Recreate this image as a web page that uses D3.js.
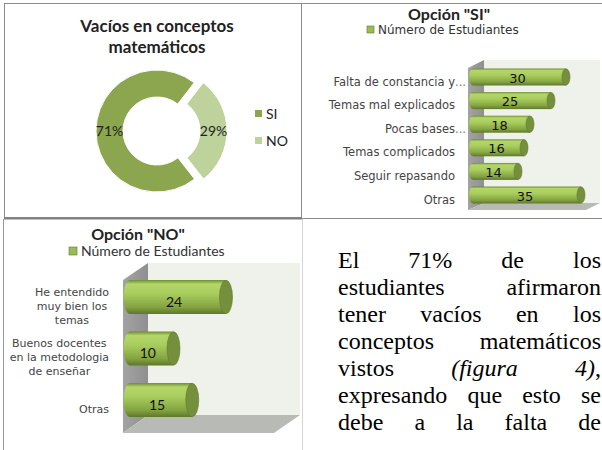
<!DOCTYPE html>
<html lang="es">
<head>
<meta charset="UTF-8">
<title>Vacíos en conceptos matemáticos</title>
<style>
  body { margin: 0; background: #fff; }
  svg { display: block; }
</style>
<script src="https://cdn.jsdelivr.net/npm/d3@7"></script>
</head>
<body>
<svg id="fig" width="602" height="450"></svg>
<script>
// datos de la figura
const pieLabels = ["SI", "NO"];
const pieValues = [71, 29];

const siCategories = ["Falta de constancia y...", "Temas mal explicados", "Pocas bases...",
                      "Temas complicados", "Seguir repasando", "Otras"];
const siValues = [30, 25, 18, 16, 14, 35];

const noCategories = [["He entendido", "muy bien los", "temas"],
                      ["Buenos docentes", "en la metodologia", "de enseñar"],
                      ["Otras"]];
const noValues = [24, 10, 15];

const seriesName = "Número de Estudiantes";

const paragraphLines = ["El 71% de los", "estudiantes afirmaron", "tener vacíos en los",
                        "conceptos matemáticos", "vistos (figura 4),",
                        "expresando que esto se", "debe a la falta de"];
const italicWords = ["(figura", "4)"];

const svg = d3.select("#fig");
svg.append("rect").attr("width", 602).attr("height", 450).attr("fill", "#fff");

const defs = svg.append("defs");
const barGrad = defs.append("linearGradient").attr("id", "barGrad")
  .attr("x1", 0).attr("y1", 0).attr("x2", 0).attr("y2", 1);
[[0, "#6f8c33"], [0.12, "#b4d66a"], [0.4, "#a9cd5d"], [0.8, "#84a342"], [1, "#5e7829"]]
  .forEach(s => barGrad.append("stop").attr("offset", s[0]).attr("stop-color", s[1]));
const sideGrad = defs.append("linearGradient").attr("id", "sideGrad")
  .attr("x1", 0).attr("y1", 0).attr("x2", 1).attr("y2", 0);
[[0, "#a3a3a3"], [1, "#8f8f8f"]]
  .forEach(s => sideGrad.append("stop").attr("offset", s[0]).attr("stop-color", s[1]));

// marcos de los paneles
svg.append("rect").attr("x", 4.5).attr("y", 3.5).attr("width", 297).attr("height", 214)
  .attr("fill", "none").attr("stroke", "#8c8c8c");
svg.append("line").attr("x1", 4).attr("x2", 302).attr("y1", 218.5).attr("y2", 218.5)
  .attr("stroke", "#7f7f7f").attr("stroke-width", 2);
svg.append("line").attr("x1", 302).attr("x2", 602).attr("y1", 3.5).attr("y2", 3.5).attr("stroke", "#8c8c8c");
svg.append("line").attr("x1", 302).attr("x2", 602).attr("y1", 218.5).attr("y2", 218.5).attr("stroke", "#8c8c8c");
svg.append("line").attr("x1", 3.5).attr("x2", 3.5).attr("y1", 219).attr("y2", 450).attr("stroke", "#9a9a9a");
svg.append("line").attr("x1", 302.5).attr("x2", 302.5).attr("y1", 219).attr("y2", 450).attr("stroke", "#d4d4d4");

// ---- dona ----
const gTitle = svg.append("text").attr("text-anchor", "middle")
  .attr("font-family", "Lato").attr("font-weight", "bold").attr("font-size", 17).attr("fill", "#222");
gTitle.append("tspan").attr("x", 157).attr("y", 32).text("Vacíos en conceptos");
gTitle.append("tspan").attr("x", 157).attr("y", 53).text("matemáticos");

const pieColor = d3.scaleOrdinal(pieLabels, ["#8ba64f", "#bed29c"]);
const pie = d3.pie().sort(null).value(d => d.v)
  .startAngle(142 * Math.PI / 180).endAngle(502 * Math.PI / 180);
const arcs = pie(pieLabels.map((k, i) => ({ k, v: pieValues[i] })));
const arc = d3.arc().innerRadius(34).outerRadius(61);
const explode = { SI: 2, NO: 7 };

const gPie = svg.append("g").attr("transform", "translate(159,131)");
const slice = gPie.selectAll("g").data(arcs).join("g")
  .attr("transform", d => {
    const a = (d.startAngle + d.endAngle) / 2, e = explode[d.data.k];
    return `translate(${Math.sin(a) * e},${-Math.cos(a) * e})`;
  });
slice.append("path").attr("d", arc).attr("fill", d => pieColor(d.data.k))
  .attr("stroke", "#fff").attr("stroke-width", 1);
slice.append("text").attr("transform", d => `translate(${arc.centroid(d)})`)
  .attr("text-anchor", "middle").attr("dy", "0.35em")
  .attr("font-family", "Lato").attr("font-size", 14).attr("fill", "#222")
  .text(d => d.data.v + "%");

const pieLegend = svg.append("g").selectAll("g").data(pieLabels).join("g")
  .attr("transform", (d, i) => `translate(255,${110 + i * 27})`);
pieLegend.append("rect").attr("width", 7).attr("height", 7).attr("fill", d => pieColor(d));
pieLegend.append("text").attr("x", 11).attr("y", 8.5)
  .attr("font-family", "Lato").attr("font-size", 14).attr("fill", "#222").text(d => d);

// ---- barras cilíndricas ----
function cylinderChart(o) {
  const g = svg.append("g");
  // paredes
  g.append("rect").attr("x", o.back[0]).attr("y", o.back[1])
    .attr("width", o.back[2] - o.back[0]).attr("height", o.back[3] - o.back[1]).attr("fill", "#eff2ea");
  g.append("polygon").attr("points", o.side.join(" ")).attr("fill", "url(#sideGrad)");
  g.append("polygon").attr("points", o.floor.join(" ")).attr("fill", "#b8bab5");

  const y = d3.scaleBand().domain(d3.range(o.values.length)).range(o.yRange).paddingInner(o.pad);
  const x = d3.scaleLinear().domain([0, 40]).range(o.xRange);
  const h = y.bandwidth(), rx = o.rx;

  const bar = g.selectAll("g.bar").data(o.values).join("g").attr("class", "bar");
  bar.append("rect").attr("x", o.x0).attr("y", (d, i) => y(i))
    .attr("width", d => x(d) - rx - o.x0).attr("height", h).attr("fill", "url(#barGrad)");
  bar.append("ellipse").attr("cx", o.x0).attr("cy", (d, i) => y(i) + h / 2)
    .attr("rx", rx).attr("ry", h / 2).attr("fill", "url(#barGrad)");
  bar.append("ellipse").attr("cx", d => x(d) - rx).attr("cy", (d, i) => y(i) + h / 2)
    .attr("rx", rx).attr("ry", h / 2 - 0.3).attr("fill", "#75903d").attr("stroke", "#5f7a2b").attr("stroke-width", 0.6);
  bar.append("text").attr("x", d => (o.x0 + x(d) - rx) / 2 + o.valDx)
    .attr("y", (d, i) => y(i) + h / 2 + o.valDy).attr("dy", "0.35em").attr("text-anchor", "middle")
    .attr("font-family", o.valFont).attr("font-size", o.valSize).attr("fill", "#111").text(d => d);
  return { g, y, h };
}

// Opción "SI"
svg.append("text").attr("x", 449).attr("y", 20).attr("text-anchor", "middle")
  .attr("font-family", "Lato").attr("font-weight", "bold").attr("font-size", 16).attr("fill", "#222")
  .text('Opción "SI"');
svg.append("rect").attr("x", 367).attr("y", 26).attr("width", 7).attr("height", 7)
  .attr("fill", "#9bbb59").attr("stroke", "#5f7a2b").attr("stroke-width", 0.6);
svg.append("text").attr("x", 378).attr("y", 33.5).attr("font-family", "DejaVu Sans")
  .attr("font-size", 12).attr("fill", "#333").text(seriesName);

const si = cylinderChart({
  values: siValues,
  back: [484, 60, 600, 203],
  side: [[468, 68], [484, 60], [484, 203], [468, 210]],
  floor: [[468, 210], [484, 203], [600, 203], [586, 210]],
  yRange: [68.5, 203.5], pad: 0.28, xRange: [480, 600], x0: 473, rx: 4,
  valDx: -2, valDy: 1, valFont: "DejaVu Sans", valSize: 13
});
si.g.selectAll("text.cat").data(siCategories).join("text").attr("class", "cat")
  .attr("x", 455).attr("y", (d, i) => si.y(i) + si.h / 2 + 4.5).attr("dy", "0.35em")
  .attr("text-anchor", "end").attr("font-family", "DejaVu Sans").attr("font-size", 11.5).attr("fill", "#444")
  .text(d => d.replace(/\.\.\.$/, ""));
si.g.selectAll("text.dots").data(siCategories.filter(d => d.endsWith("..."))).join("text").attr("class", "dots")
  .attr("x", 455).attr("y", d => si.y(siCategories.indexOf(d)) + si.h / 2 + 4.5).attr("dy", "0.35em")
  .attr("font-family", "DejaVu Sans").attr("font-size", 11.5).attr("fill", "#777").text("...");

// Opción "NO"
svg.append("text").attr("x", 138).attr("y", 240).attr("text-anchor", "middle")
  .attr("font-family", "Lato").attr("font-weight", "bold").attr("font-size", 16).attr("fill", "#222")
  .text('Opción "NO"');
svg.append("rect").attr("x", 69).attr("y", 247).attr("width", 8).attr("height", 8)
  .attr("fill", "#9bbb59").attr("stroke", "#5f7a2b").attr("stroke-width", 0.6);
svg.append("text").attr("x", 81).attr("y", 255.5).attr("font-family", "Lato")
  .attr("font-size", 14).attr("fill", "#333").text(seriesName);

const no = cylinderChart({
  values: noValues,
  back: [148, 263, 300, 415],
  side: [[123, 280], [148, 263], [148, 415], [123, 433]],
  floor: [[123, 433], [148, 415], [300, 415], [274, 433]],
  yRange: [280, 417], pad: 0.34, xRange: [142.5, 292.5], x0: 130, rx: 6.5,
  valDx: -4, valDy: 5, valFont: "Lato", valSize: 14
});
no.g.selectAll("text.cat").data(noCategories).join("text").attr("class", "cat")
  .attr("font-family", "DejaVu Sans").attr("font-size", 11).attr("fill", "#444")
  .attr("text-anchor", "middle")
  .each(function (lines, i) {
    const t = d3.select(this);
    const cy = no.y(i) + no.h / 2 + 9;
    lines.forEach((l, j) => t.append("tspan")
      .attr("y", cy + (j - (lines.length - 1) / 2) * 14).attr("dy", "0.35em").text(l));
    const w = d3.max(t.selectAll("tspan").nodes(), n => n.getComputedTextLength());
    t.selectAll("tspan").attr("x", 109 - w / 2);
  });

// ---- párrafo justificado ----
const para = svg.append("g").attr("font-family", "Liberation Serif").attr("font-size", 24).attr("fill", "#000");
const pLeft = 338, pRight = 601;
paragraphLines.forEach((line, li) => {
  const words = line.split(" ");
  const nodes = words.map(w => {
    const t = para.append("text").attr("y", 268 + li * 27);
    const core = w.replace(/,$/, "");
    if (italicWords.includes(core)) {
      t.append("tspan").attr("font-style", "italic").text(core);
      if (core !== w) t.append("tspan").text(",");
    } else t.text(w);
    return t;
  });
  const widths = nodes.map(t => t.node().getComputedTextLength());
  const gap = (pRight - pLeft - d3.sum(widths)) / (words.length - 1);
  let cx = pLeft;
  nodes.forEach((t, i) => { t.attr("x", cx); cx += widths[i] + gap; });
});
</script>
</body>
</html>
